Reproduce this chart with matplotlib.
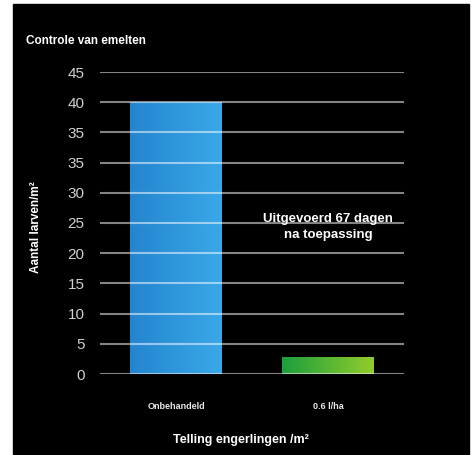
import matplotlib
matplotlib.use("Agg")
import matplotlib.pyplot as plt
import numpy as np
from matplotlib.colors import LinearSegmentedColormap
from matplotlib.patches import Rectangle

# data (axis has 11 gridlines; the original labels them with a doubled "35")
categories = ["Onbehandeld", "0.6 l/ha"]
values = [45, 2.8]
ytick_pos = [0, 5, 10, 15, 20, 25, 30, 35, 40, 45, 50]
ytick_labels = ["0", "5", "10", "15", "20", "25", "30", "35", "35", "40", "45"]
bar_colors = [("#2385cf", "#3aa8e8"), ("#1c9e3c", "#92cc2c")]

FONT = ["Liberation Sans Narrow", "Liberation Sans", "DejaVu Sans"]
plt.rcParams["font.family"] = FONT

fig = plt.figure(figsize=(4.75, 4.55), dpi=100, facecolor="white")
bg = Rectangle((13 / 475, 0), (469 - 13) / 475, 1 - 4 / 455,
               transform=fig.transFigure, color="black", zorder=-10)
fig.patches.append(bg)

ax = fig.add_axes([100 / 475, 1 - 374 / 455, 304 / 475, 302 / 455])
ax.patch.set_visible(False)

x = np.arange(len(categories))
bars = ax.bar(x, values, width=0.6, color="none", zorder=2)
grad = np.linspace(0, 1, 256).reshape(1, -1)
for b, (c0, c1) in zip(bars, bar_colors):
    cmap = LinearSegmentedColormap.from_list("g", [c0, c1])
    x0, y0 = b.get_x(), b.get_y()
    im = ax.imshow(grad, cmap=cmap, aspect="auto", zorder=2,
                   extent=[x0, x0 + b.get_width(), y0, y0 + b.get_height()])
    im.set_clip_path(b)

ax.set_xlim(-0.5, 1.5)
ax.set_ylim(0, 50)
ax.set_yticks(ytick_pos)
ax.set_yticklabels(ytick_labels)
for yv in ytick_pos:
    ax.axhline(yv, color="white", alpha=0.52, lw=1.5, zorder=3)

for s in ax.spines.values():
    s.set_visible(False)
ax.tick_params(axis="y", length=0, pad=11, labelsize=11, labelcolor="#d0d0d0")
ax.tick_params(axis="x", length=0, pad=20, labelsize=6.5, labelcolor="#e8e8e8")
ax.set_xticks(x)
ax.set_xticklabels(categories, fontweight="bold")

fig.text(26 / 475, 1 - 41 / 455, "Controle van emelten", color="white",
         fontsize=8.5, fontweight="bold", va="center", ha="left")
fig.text(36 / 475, 1 - 227 / 455, "Aantal larven/m²", color="white",
         fontsize=8.5, fontweight="bold", rotation=90, va="center", ha="center")
fig.text(241 / 475, 1 - 440 / 455, "Telling engerlingen /m²", color="white",
         fontsize=9, fontweight="bold", va="center", ha="center")
ax.text(1, 24.4, "Uitgevoerd 67 dagen\nna toepassing", color="white",
        fontsize=9.5, fontweight="bold", ha="center", va="center",
        linespacing=1.45, zorder=4)

fig.savefig("out.png", dpi=100, facecolor=fig.get_facecolor())
